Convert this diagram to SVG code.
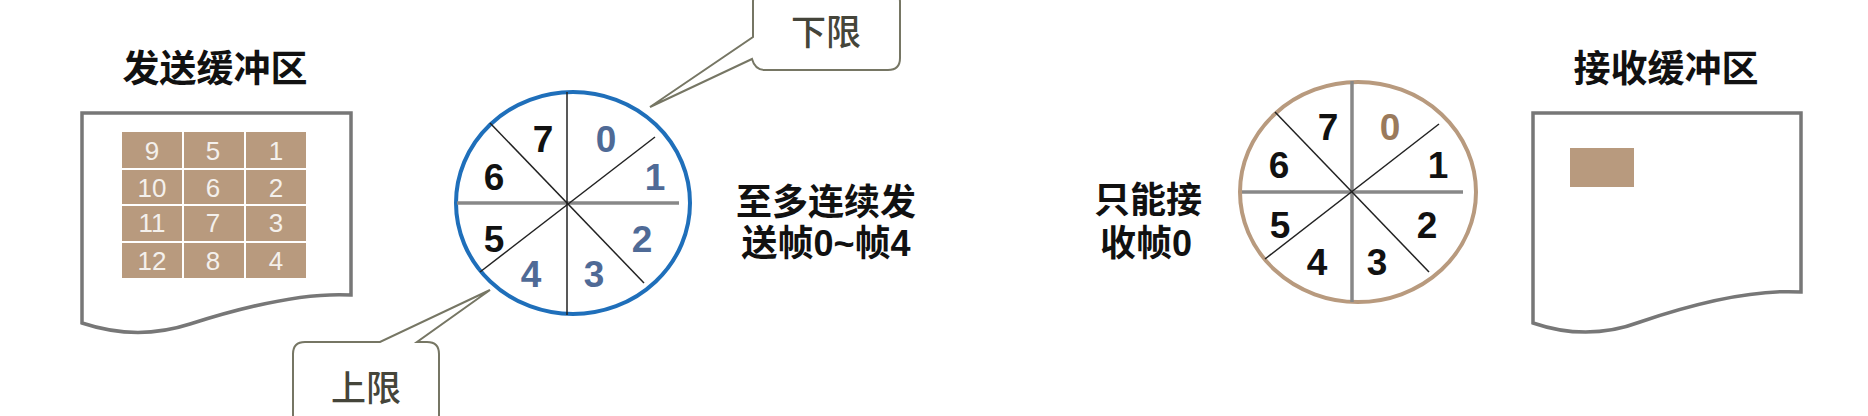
<svg xmlns="http://www.w3.org/2000/svg" width="1868" height="416" viewBox="0 0 1868 416">
<style>
.t{font-family:"Liberation Sans","Noto Sans CJK SC",sans-serif;font-weight:bold;fill:#111;text-anchor:middle}
.cj{font-size:36px}
.ti{font-size:37px}
.doc{fill:#fff;stroke:#777;stroke-width:3.5}
.cell{fill:#b89a7e}
.cn{font-family:"Liberation Sans",sans-serif;font-size:26px;fill:#f4f0ec;text-anchor:middle}
.dg{font-family:"Liberation Sans",sans-serif;font-weight:bold;font-size:37px;text-anchor:middle;fill:#111}
.bl{fill:#4f6a96}
.tn{fill:#9a7a5c}
.thin{stroke:#222;stroke-width:1.5}
.thick{stroke:#888;stroke-width:3.5}
.call{fill:#fff;stroke:#767664;stroke-width:2}
.ct{font-family:"Noto Sans CJK SC",sans-serif;font-weight:500;font-size:35px;fill:#45453a;text-anchor:middle}
</style>
<rect width="1868" height="416" fill="#fff"/>

<g id="send-buffer">
<text class="t ti" x="215" y="82">发送缓冲区</text>
<path class="doc" d="M82,113 H351 V295 C300,292 240,308 190,324 C150,337 115,334 82,323 Z"/>
<g>
<rect class="cell" x="122" y="132" width="60" height="36"/>
<rect class="cell" x="184" y="132" width="60" height="36"/>
<rect class="cell" x="246" y="132" width="60" height="36"/>
<rect class="cell" x="122" y="170" width="60" height="34"/>
<rect class="cell" x="184" y="170" width="60" height="34"/>
<rect class="cell" x="246" y="170" width="60" height="34"/>
<rect class="cell" x="122" y="206" width="60" height="35"/>
<rect class="cell" x="184" y="206" width="60" height="35"/>
<rect class="cell" x="246" y="206" width="60" height="35"/>
<rect class="cell" x="122" y="243" width="60" height="35"/>
<rect class="cell" x="184" y="243" width="60" height="35"/>
<rect class="cell" x="246" y="243" width="60" height="35"/>
</g>
<text class="cn" x="152" y="160">9</text>
<text class="cn" x="213" y="160">5</text>
<text class="cn" x="276" y="160">1</text>
<text class="cn" x="152" y="197">10</text>
<text class="cn" x="213" y="197">6</text>
<text class="cn" x="276" y="197">2</text>
<text class="cn" x="152" y="232">11</text>
<text class="cn" x="213" y="232">7</text>
<text class="cn" x="276" y="232">3</text>
<text class="cn" x="152" y="270">12</text>
<text class="cn" x="213" y="270">8</text>
<text class="cn" x="276" y="270">4</text>
</g>

<g id="send-window">
<ellipse cx="573" cy="203" rx="117" ry="111" fill="#fff" stroke="#1f6fba" stroke-width="4"/>
<line class="thick" x1="457" y1="203" x2="679" y2="203"/>
<line class="thin" x1="567" y1="92" x2="567" y2="315"/>
<line class="thin" x1="490" y1="123" x2="644" y2="283"/>
<line class="thin" x1="655" y1="137" x2="480" y2="272"/>
<text class="dg" x="543" y="152">7</text>
<text class="dg bl" x="606" y="152">0</text>
<text class="dg bl" x="655" y="190">1</text>
<text class="dg" x="494" y="190">6</text>
<text class="dg" x="494" y="252">5</text>
<text class="dg bl" x="642" y="252">2</text>
<text class="dg bl" x="594" y="287">3</text>
<text class="dg bl" x="531" y="287">4</text>
</g>

<g id="callout-lower">
<path class="call" d="M765,-10 H888 Q900,-10 900,2 V58 Q900,70 888,70 H765 Q755,70 752,59 L650,107 L753,37 V2 Q753,-10 765,-10 Z"/>
<text class="ct" x="826" y="45">下限</text>
</g>

<g id="callout-upper">
<path class="call" d="M305,342 H380 L490,290 L417,342 H427 Q439,342 439,354 V430 H293 V354 Q293,342 305,342 Z"/>
<text class="ct" x="366" y="401">上限</text>
</g>

<g id="send-note">
<text class="t cj" x="826" y="215">至多连续发</text>
<text class="t cj" x="826" y="256">送帧0~帧4</text>
</g>

<g id="recv-note">
<text class="t cj" x="1148" y="213">只能接</text>
<text class="t cj" x="1146" y="256">收帧0</text>
</g>

<g id="recv-window">
<ellipse cx="1358" cy="192" rx="118" ry="110" fill="#fff" stroke="#b89a7e" stroke-width="4"/>
<line class="thick" x1="1242" y1="192" x2="1463" y2="192"/>
<line class="thick" x1="1352" y1="81" x2="1352" y2="302"/>
<line class="thin" x1="1275" y1="112" x2="1429" y2="272"/>
<line class="thin" x1="1439" y1="124" x2="1265" y2="259"/>
<text class="dg" x="1328" y="140">7</text>
<text class="dg tn" x="1390" y="140">0</text>
<text class="dg" x="1438" y="178">1</text>
<text class="dg" x="1279" y="178">6</text>
<text class="dg" x="1280" y="238">5</text>
<text class="dg" x="1427" y="238">2</text>
<text class="dg" x="1377" y="275">3</text>
<text class="dg" x="1317" y="275">4</text>
</g>

<g id="recv-buffer">
<text class="t ti" x="1666" y="82">接收缓冲区</text>
<path class="doc" d="M1533,113 H1801 V292 C1750,289 1690,305 1640,322 C1600,337 1565,334 1533,323 Z"/>
<rect class="cell" x="1570" y="148" width="64" height="39"/>
</g>

<g id="connectors"></g>
</svg>
